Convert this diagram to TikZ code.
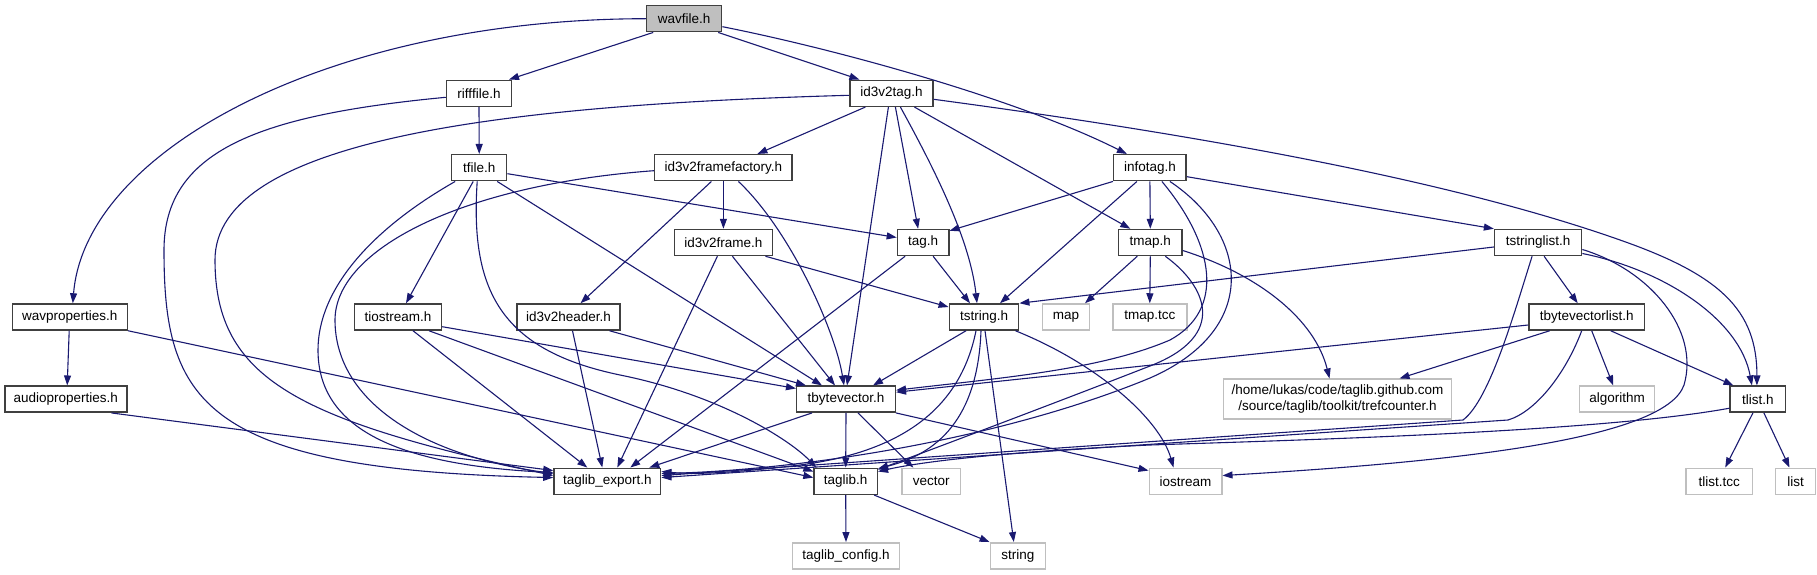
\documentclass[tikz,border=0pt]{standalone}
\usepackage{fontspec}
\setmainfont{Liberation Sans}
\usetikzlibrary{arrows.meta}
\definecolor{edgeblue}{HTML}{191970}
\definecolor{boxgray}{HTML}{BFBFBF}
\definecolor{boxline}{HTML}{404040}
\begin{document}
\begin{tikzpicture}[x=1pt,y=-1pt,
  box/.style={draw=boxline,line width=1.5pt,fill=white,minimum height=26pt,inner sep=0pt,font=\fontsize{13.5}{15.5}\selectfont,text=black},
  sysbox/.style={box,draw=boxgray},
  edge/.style={draw=edgeblue,line width=1.1pt,-{Triangle[length=10pt,width=7pt]}}]
\useasboundingbox (0,0) rectangle (1817,575);
% nodes
\node[box,fill=boxgray,minimum width=75pt] (wavfile) at (684.2,18.7) {wavfile.h};
\node[box,minimum width=65pt] (rifffile) at (479,93.3) {rifffile.h};
\node[box,minimum width=83pt] (id3v2tag) at (891.4,93.3) {id3v2tag.h};
\node[box,minimum width=55pt] (tfile) at (479.2,167.7) {tfile.h};
\node[box,minimum width=137.6pt] (id3v2ff) at (723.4,167.7) {id3v2framefactory.h};
\node[box,minimum width=72.5pt] (infotag) at (1149.9,167.7) {infotag.h};
\node[box,minimum width=98pt] (id3v2frame) at (723.4,242.5) {id3v2frame.h};
\node[box,minimum width=51.4pt] (tag) at (923.1,242.5) {tag.h};
\node[box,minimum width=63.3pt] (tmap) at (1150.3,242.5) {tmap.h};
\node[box,minimum width=87pt] (tstringlist) at (1538.1,242.5) {tstringlist.h};
\node[box,minimum width=115pt] (wavprop) at (69.8,317) {wavproperties.h};
\node[box,minimum width=87pt] (tiostream) at (398,317) {tiostream.h};
\node[box,minimum width=103pt] (id3v2header) at (568.5,317) {id3v2header.h};
\node[box,minimum width=69.4pt] (tstring) at (984,317) {tstring.h};
\node[sysbox,minimum width=46.6pt] (map) at (1066,317) {map};
\node[sysbox,minimum width=74pt] (tmaptcc) at (1149.8,317) {tmap.tcc};
\node[box,minimum width=115.4pt] (tbvlist) at (1586.7,317) {tbytevectorlist.h};
\node[box,minimum width=122pt] (audioprop) at (65.8,399.2) {audioproperties.h};
\node[box,minimum width=98.6pt] (tbytevector) at (846,399.2) {tbytevector.h};
\node[sysbox,minimum width=228.4pt,minimum height=40pt,align=center] (trefcounter) at (1337.5,399.2) {/home/lukas/code/taglib.github.com\\/source/taglib/toolkit/trefcounter.h};
\node[sysbox,minimum width=75pt] (algorithm) at (1617.2,399.2) {algorithm};
\node[box,minimum width=55.4pt] (tlist) at (1757.9,399.2) {tlist.h};
\node[box,minimum width=106.7pt] (tagexp) at (607.3,481.3) {taglib\_export.h};
\node[box,minimum width=63.3pt] (taglib) at (845.7,481.3) {taglib.h};
\node[sysbox,minimum width=58.7pt] (vector) at (931.3,481.3) {vector};
\node[sysbox,minimum width=72.5pt] (iostream) at (1185.5,481.3) {iostream};
\node[sysbox,minimum width=66.4pt] (tlisttcc) at (1719.2,481.3) {tlist.tcc};
\node[sysbox,minimum width=39.6pt] (list) at (1795.5,481.3) {list};
\node[sysbox,minimum width=106.7pt] (taglibconfig) at (846,555.8) {taglib\_config.h};
\node[sysbox,minimum width=55pt] (string) at (1017.8,555.8) {string};
% edges
\draw[edge] ([xshift=-31pt]wavfile.south) -- ([xshift=30pt]rifffile.north);
\draw[edge] ([xshift=34pt]wavfile.south) -- ([xshift=-32pt]id3v2tag.north);
\draw[edge] ([yshift=-8pt]wavfile.east) .. controls (840,50) and (1020,100) .. ([xshift=-23pt]infotag.north);
\draw[edge] (wavfile.west) .. controls (330,19) and (85,150) .. ([xshift=3pt]wavprop.north);
\draw[edge] (rifffile.south) -- (tfile.north);
\draw[edge] ([yshift=-4pt]rifffile.west) .. controls (260,115) and (164,150) .. (164,250) .. controls (164,400) and (200,470) .. ([yshift=-10pt]tagexp.north west);
\draw[edge] ([yshift=-2pt]id3v2tag.west) .. controls (500,105) and (215,140) .. (215,260) .. controls (215,380) and (300,420) .. ([yshift=-8pt]tagexp.north west);
\draw[edge] ([xshift=-26pt]id3v2tag.south) -- ([xshift=34pt]id3v2ff.north);
\draw[edge] ([xshift=-3pt]id3v2tag.south) -- ([xshift=1pt]tbytevector.north);
\draw[edge] ([xshift=4pt]id3v2tag.south) -- ([xshift=-5pt]tag.north);
\draw[edge] ([xshift=9pt]id3v2tag.south) .. controls (935,170) and (970,240) .. ([xshift=-7pt]tstring.north);
\draw[edge] ([xshift=23pt]id3v2tag.south) -- ([xshift=-20pt]tmap.north);
\draw[edge] ([yshift=-6pt]id3v2tag.east) .. controls (1200,135) and (1450,180) .. (1620,240) .. controls (1720,275) and (1757,310) .. ([xshift=-1pt]tlist.north);
\draw[edge] ([yshift=-3pt]id3v2ff.west) .. controls (460,185) and (335,250) .. (335,320) .. controls (335,400) and (420,455) .. ([yshift=-6pt]tagexp.north west);
\draw[edge] ([xshift=-24pt]tfile.south) .. controls (370,230) and (318,290) .. (318,350) .. controls (318,430) and (400,465) .. ([yshift=-5pt]tagexp.north west);
\draw[edge] (id3v2ff.south) -- (id3v2frame.north);
\draw[edge] ([xshift=-12pt]id3v2ff.south) -- ([xshift=12pt]id3v2header.north);
\draw[edge] ([xshift=15pt]id3v2ff.south) .. controls (790,230) and (835,330) .. ([xshift=-2pt]tbytevector.north);
\draw[edge] ([xshift=-6pt]tfile.south) -- ([xshift=8pt]tiostream.north);
\draw[edge] ([xshift=-2pt]tfile.south) .. controls (470,290) and (500,350) .. (620,375) .. controls (720,395) and (790,440) .. ([xshift=3pt]taglib.north west);
\draw[edge] ([yshift=-6pt]tfile.east) -- ([yshift=5pt]tag.west);
\draw[edge] ([xshift=18pt]tfile.south) -- ([xshift=-24pt]tbytevector.north);
\draw[edge] ([xshift=-6pt]id3v2frame.south) -- ([xshift=10pt]tagexp.north);
\draw[edge] ([xshift=9pt]id3v2frame.south) -- ([xshift=-11pt]tbytevector.north);
\draw[edge] ([xshift=42pt]id3v2frame.south) -- ([yshift=10pt]tstring.west);
\draw[edge] ([xshift=-18pt]tag.south) -- ([xshift=23pt]tagexp.north);
\draw[edge] ([xshift=10pt]tag.south) -- ([xshift=-14pt]tstring.north);
\draw[edge] (infotag.south west) -- ([yshift=-2pt]tag.north east);
\draw[edge] (infotag.south) -- (tmap.north);
\draw[edge] ([xshift=-13pt]infotag.south) -- ([xshift=16pt]tstring.north);
\draw[edge] ([yshift=-9pt]infotag.east) -- (tstringlist.north west);
\draw[edge] ([xshift=12pt]infotag.south) .. controls (1215,245) and (1225,310) .. (1170,340) .. controls (1100,370) and (1000,378) .. ([yshift=9pt]tbytevector.east);
\draw[edge] ([xshift=20pt]infotag.south) .. controls (1250,235) and (1260,330) .. (1150,378) .. controls (1000,440) and (800,470) .. ([yshift=-6pt]tagexp.north east);
\draw[edge] ([xshift=-13pt]tmap.south) -- ([xshift=19pt]map.north);
\draw[edge] (tmap.south) -- (tmaptcc.north);
\draw[edge] ([yshift=-8pt]tmap.east) .. controls (1260,275) and (1315,320) .. ([xshift=-8pt]trefcounter.north);
\draw[edge] ([xshift=15pt]tmap.south) .. controls (1205,285) and (1230,335) .. (1150,366) .. controls (1050,405) and (930,450) .. ([yshift=-2pt]taglib.north east);
\draw[edge] ([yshift=-4.5pt]tstringlist.west) -- (tstring.north east);
\draw[edge] ([xshift=6pt]tstringlist.south) -- ([xshift=-9pt]tbvlist.north);
\draw[edge] ([yshift=-11pt]tstringlist.east) .. controls (1665,270) and (1740,320) .. ([xshift=-6pt]tlist.north);
\draw[edge] ([xshift=-6pt]tstringlist.south) .. controls (1515,310) and (1490,400) .. (1463,420) -- ([yshift=-8pt]tagexp.north east);
\draw[edge] ([yshift=-7pt]tstringlist.east) .. controls (1650,270) and (1700,330) .. (1684,385) .. controls (1665,440) and (1450,462) .. ([yshift=-8pt]iostream.north east);
\draw[edge] ([yshift=-8pt]tbvlist.west) -- ([yshift=7pt]tbytevector.east);
\draw[edge] ([xshift=-37pt]tbvlist.south) -- ([xshift=62pt]trefcounter.north);
\draw[edge] ([xshift=5pt]tbvlist.south) -- ([xshift=-4pt]algorithm.north);
\draw[edge] ([xshift=24pt]tbvlist.south) -- ([xshift=4pt]tlist.north west);
\draw[edge] ([xshift=-5pt]tbvlist.south) .. controls (1565,375) and (1535,412) .. (1508,420) -- ([yshift=-10pt]tagexp.north east);
\draw[edge] ([xshift=-5pt]tlist.south) -- ([xshift=6pt]tlisttcc.north);
\draw[edge] ([xshift=6pt]tlist.south) -- ([xshift=-6pt]list.north);
\draw[edge] ([yshift=-9pt]tlist.west) .. controls (1600,432) and (1300,440) .. (1150,445) .. controls (1000,452) and (920,462) .. ([yshift=-4pt]taglib.north east);
\draw[edge] ([xshift=-18pt]tstring.south) -- ([xshift=27pt]tbytevector.north);
\draw[edge] ([xshift=-8pt]tstring.south) .. controls (960,410) and (900,452) .. (800,465) .. controls (740,472) and (700,475) .. ([yshift=-4pt]tagexp.north east);
\draw[edge] ([xshift=-3pt]tstring.south) .. controls (978,410) and (945,452) .. ([yshift=-1pt]taglib.north east);
\draw[edge] ([xshift=1pt]tstring.south) -- ([xshift=-4pt]string.north);
\draw[edge] ([xshift=-4pt]tstring.south east) .. controls (1100,365) and (1160,420) .. ([xshift=-12pt]iostream.north);
\draw[edge] ([xshift=-34pt]tbytevector.south) -- ([xshift=42pt]tagexp.north);
\draw[edge] (tbytevector.south) -- (taglib.north);
\draw[edge] ([xshift=12pt]tbytevector.south) -- ([xshift=-18pt]vector.north);
\draw[edge] (tbytevector.south east) -- ([yshift=-3pt]iostream.north west);
\draw[edge] (taglib.south) -- (taglibconfig.north);
\draw[edge] ([xshift=-4pt]taglib.south east) -- (string.north west);
\draw[edge] ([xshift=15pt]tiostream.south) -- ([xshift=-20pt]tagexp.north);
\draw[edge] ([xshift=31pt]tiostream.south) -- ([yshift=-4pt]taglib.north west);
\draw[edge] ([yshift=-9.7pt]tiostream.east) -- ([yshift=-3pt]tbytevector.north west);
\draw[edge] ([xshift=4pt]id3v2header.south) -- ([xshift=-5pt]tagexp.north);
\draw[edge] ([xshift=41pt]id3v2header.south) -- ([xshift=-40pt]tbytevector.north);
\draw[edge] ([xshift=-0.6pt]wavprop.south) -- ([xshift=1.4pt]audioprop.north);
\draw[edge] (wavprop.south east) -- ([yshift=-10pt]taglib.north west);
\draw[edge] ([xshift=-16pt]audioprop.south east) -- ([yshift=-3pt]tagexp.north west);
\end{tikzpicture}
\end{document}
